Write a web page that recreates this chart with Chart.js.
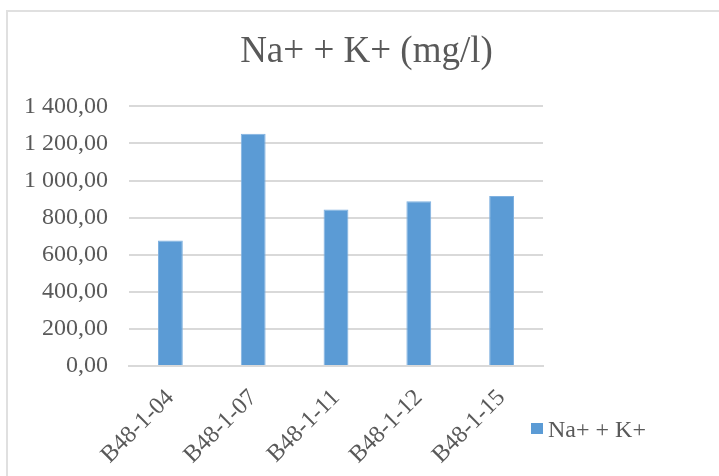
<!DOCTYPE html>
<html lang="en">
<head>
    <meta charset="UTF-8">
    <title>Na+ + K+ (mg/l)</title>
    <script src="https://cdn.jsdelivr.net/npm/chart.js"></script>
    <style>
        body {
            margin: 0;
            background: #ffffff;
        }
        .frame {
            position: absolute;
            left: 6px;
            top: 10px;
            width: 760px;
            height: 520px;
            border-left: 2px solid #e0e0e0;
            border-top: 2px solid #e0e0e0;
        }
        .wrap {
            position: relative;
            width: 719px;
            height: 476px;
            overflow: hidden;
        }
        canvas {
            position: absolute;
            left: 0;
            top: 0;
        }
    </style>
</head>
<body>
<div class="wrap">
    <div class="frame"></div>
    <canvas id="naKChart" width="719" height="476"></canvas>
</div>

<script>
    const samples = ['B48-1-04', 'B48-1-07', 'B48-1-11', 'B48-1-12', 'B48-1-15'];
    const naK = [677, 1253, 844, 888, 917];
    const yTickLabels = ['0,00', '200,00', '400,00', '600,00', '800,00', '1 000,00', '1 200,00', '1 400,00'];

    const serif = '"Liberation Serif", "Times New Roman", serif';
    const grey = '#595959';

    // legend square + text to the right of the plot, near the bottom
    const sideLegend = {
        id: 'sideLegend',
        afterDraw(chart) {
            const ctx = chart.ctx;
            const area = chart.chartArea;
            const ds = chart.data.datasets[0];
            ctx.save();
            ctx.fillStyle = ds.backgroundColor;
            ctx.fillRect(area.right - 12, area.bottom + 57, 12, 11);
            ctx.fillStyle = grey;
            ctx.font = '24px ' + serif;
            ctx.textBaseline = 'alphabetic';
            ctx.fillText(ds.label, area.right + 5, area.bottom + 71);
            ctx.restore();
        }
    };

    const chartConfig = {
        type: 'bar',
        data: {
            labels: samples,
            datasets: [{
                label: 'Na+ + K+',
                data: naK,
                backgroundColor: '#5b9bd5',
                borderColor: '#7fb1e0',
                borderWidth: 1,
                categoryPercentage: 1,
                barPercentage: 0.3,
                yAxisID: 'y'
            }]
        },
        options: {
            responsive: false,
            animation: false,
            layout: {
                padding: { top: 10, left: 14, right: 0, bottom: 0 }
            },
            plugins: {
                legend: { display: false },
                tooltip: { enabled: false },
                title: {
                    display: true,
                    text: 'Na+ + K+ (mg/l)',
                    color: grey,
                    font: { family: serif, size: 37, weight: 'normal' },
                    padding: { top: 20, bottom: 32 }
                }
            },
            scales: {
                x: {
                    grid: { display: false },
                    border: { color: '#d9d9d9', width: 2 },
                    ticks: {
                        color: grey,
                        font: { family: serif, size: 24 },
                        minRotation: 45,
                        maxRotation: 45,
                        padding: 10
                    },
                    afterFit: scale => { scale.height = 110; }
                },
                y: {
                    min: 0,
                    max: 1400,
                    grid: { color: '#d9d9d9', lineWidth: 2, drawTicks: false },
                    border: { display: false },
                    ticks: {
                        stepSize: 200,
                        color: grey,
                        font: { family: serif, size: 24 },
                        padding: 21,
                        callback: (value, index) => yTickLabels[index]
                    },
                    afterFit: scale => { scale.width = 115; }
                },
                legendSpace: {
                    position: 'right',
                    grid: { display: false },
                    border: { display: false },
                    ticks: { display: false },
                    afterFit: scale => { scale.width = 176; }
                }
            }
        },
        plugins: [sideLegend]
    };

    const naKChart = new Chart(document.getElementById('naKChart').getContext('2d'), chartConfig);
</script>
</body>
</html>
